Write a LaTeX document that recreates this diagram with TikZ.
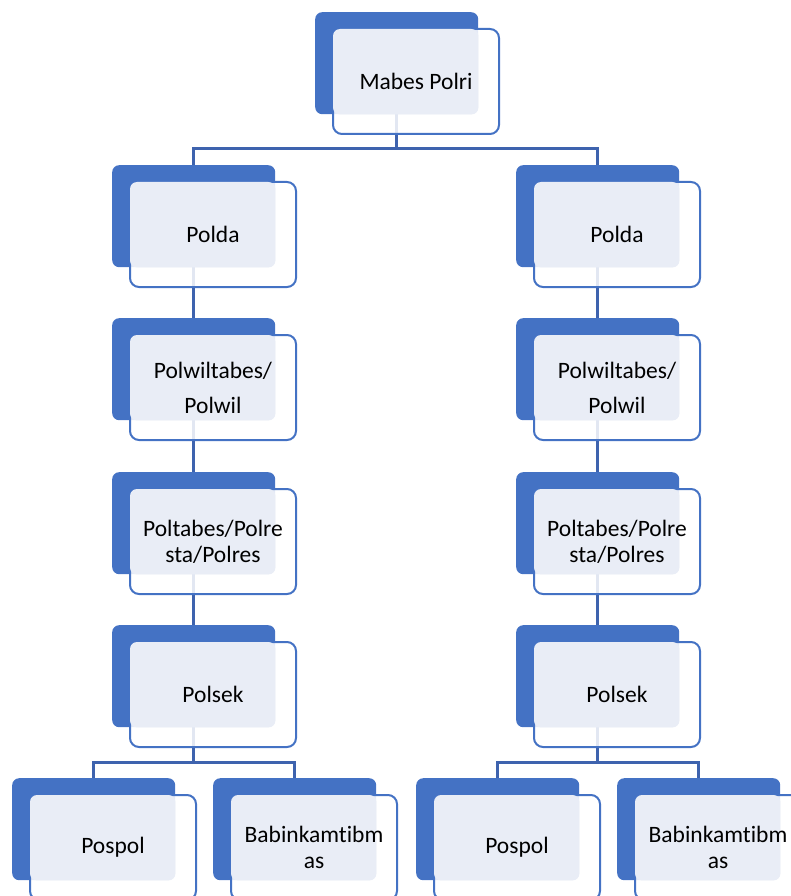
\documentclass[tikz,border=0pt]{standalone}
\usepackage{fontspec}
\setmainfont{Carlito}[Ligatures=NoCommon]
\usetikzlibrary{positioning,backgrounds}

\definecolor{boxblue}{HTML}{4472C4}
\definecolor{boxlight}{HTML}{E9EDF6}
\definecolor{linkblue}{HTML}{3E63AE}

\tikzset{
  backbox/.style={fill=boxblue, rounded corners=7pt, minimum width=163pt,
    minimum height=102pt, anchor=north west, inner sep=0pt},
  frontbox/.style={draw=boxblue, line width=2pt, fill=white, fill opacity=0.85,
    rounded corners=9pt, minimum width=166pt, minimum height=105pt,
    anchor=north west, inner sep=0pt},
  unitlabel/.style={align=center, inner sep=0pt, text=black,
    font=\fontsize{23.5}{26}\selectfont},
  link/.style={draw=linkblue, line width=2.5pt},
}

% one unit: blue back card, outlined front card, light text area
\newcommand{\orgunit}[4]{%
  \node[backbox] (#1) at (#2,#3) {};
  \node[frontbox] (#1-f) at ([shift={(17pt,-16pt)}]#1.north west) {};
  \fill[boxlight, rounded corners=7pt] ([shift={(1pt,-1pt)}]#1-f.north west) rectangle (#1.south east);
  \node[unitlabel] (#1-t) at (#1-f.center) {#4};
}

\begin{document}
\begin{tikzpicture}[x=1pt,y=-1pt]
\useasboundingbox (0,0) rectangle (791,896);

\orgunit{mabes}{315}{12}{Mabes Polri}
% left branch
\orgunit{poldaL}{112}{165}{Polda}
\orgunit{polwilL}{112}{318}{Polwiltabes/\\[9pt]Polwil}
\orgunit{polresL}{112}{472}{Poltabes/Polre\\sta/Polres}
\orgunit{polsekL}{112}{625}{Polsek}
\orgunit{pospolL}{12}{778}{Pospol}
\orgunit{babinL}{213}{778}{Babinkamtibm\\as}
% right branch
\orgunit{poldaR}{516}{165}{Polda}
\orgunit{polwilR}{516}{318}{Polwiltabes/\\[9pt]Polwil}
\orgunit{polresR}{516}{472}{Poltabes/Polre\\sta/Polres}
\orgunit{polsekR}{516}{625}{Polsek}
\orgunit{pospolR}{416}{778}{Pospol}
\orgunit{babinR}{617}{778}{Babinkamtibm\\as}

\begin{scope}[on background layer]
  \draw[link] (mabes.south) -- ++(0,34) -| (poldaL.north);
  \draw[link] (mabes.south) -- ++(0,34) -| (poldaR.north);
  \foreach \side in {L,R}{
    \draw[link] (polda\side.south) -- (polwil\side.north);
    \draw[link] (polwil\side.south) -- (polres\side.north);
    \draw[link] (polres\side.south) -- (polsek\side.north);
    \draw[link] (polsek\side.south) -- ++(0,35) -| (pospol\side.north);
    \draw[link] (polsek\side.south) -- ++(0,35) -| (babin\side.north);
  }
\end{scope}
\end{tikzpicture}
\end{document}
